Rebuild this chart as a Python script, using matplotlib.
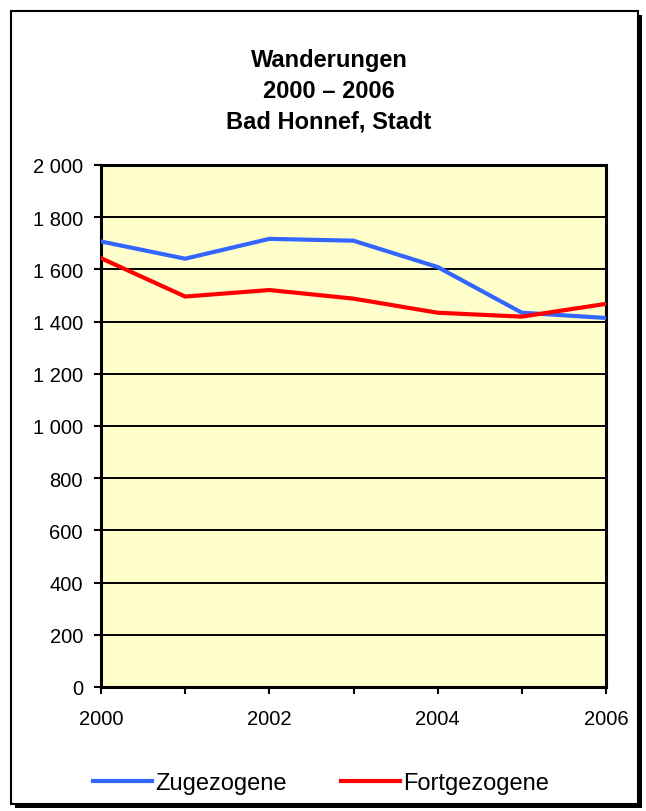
import matplotlib
matplotlib.use('Agg')
import matplotlib.pyplot as plt
from matplotlib.patches import Rectangle
from matplotlib.ticker import FuncFormatter

years = [2000, 2001, 2002, 2003, 2004, 2005, 2006]
zugezogene = [1707, 1641, 1717, 1710, 1609, 1434, 1414]
fortgezogene = [1643, 1496, 1521, 1488, 1434, 1419, 1468]
title_lines = ['Wanderungen', '2000 – 2006', 'Bad Honnef, Stadt']

plt.rcParams['font.family'] = ['Liberation Sans', 'DejaVu Sans']

W, H = 646, 812
fig = plt.figure(figsize=(W / 100, H / 100), dpi=100)

# frame with shadow (behind the axes)
fig.patches.append(Rectangle((15 / W, 1 - 809 / H), 627 / W, 793 / H,
                             transform=fig.transFigure, facecolor='black',
                             edgecolor='none', zorder=-2))
fig.patches.append(Rectangle((11 / W, 1 - 805 / H), 627 / W, 793 / H,
                             transform=fig.transFigure, facecolor='white',
                             edgecolor='black', linewidth=1.5, zorder=-1))

for i, t in enumerate(title_lines):
    fig.text(329 / W, 1 - (61 + 30.5 * i) / H, t, ha='center', va='center',
             fontsize=17, fontweight='bold')

ax = fig.add_axes([101 / W, 1 - 688 / H, 505 / W, 522 / H])
ax.set_facecolor('#FFFFCC')
ax.plot(years, zugezogene, color='#3366FF', lw=3, label='Zugezogene', zorder=3)
ax.plot(years, fortgezogene, color='#FF0000', lw=3, label='Fortgezogene', zorder=3)

ax.set_xlim(2000, 2006)
ax.set_ylim(0, 2000)
ax.set_yticks(range(0, 2001, 200))
ax.set_xticks(years)
ax.set_xticklabels([str(y) if y % 2 == 0 else '' for y in years])
ax.yaxis.set_major_formatter(FuncFormatter(lambda v, p: f'{int(v):,}'.replace(',', ' ')))
ax.grid(axis='y', color='black', lw=1.4)
ax.set_axisbelow(True)
for s in ax.spines.values():
    s.set_linewidth(2.2)
ax.tick_params(axis='both', length=5, width=1.5, labelsize=14.5, direction='out')
ax.tick_params(axis='y', pad=8)
ax.tick_params(axis='x', pad=11)

leg = fig.legend(loc='center', bbox_to_anchor=(321 / W, 1 - 784 / H), ncol=2,
                 frameon=False, fontsize=17, handlelength=2.5, handletextpad=0.15,
                 columnspacing=2.3)

fig.savefig('out.png', dpi=100)
